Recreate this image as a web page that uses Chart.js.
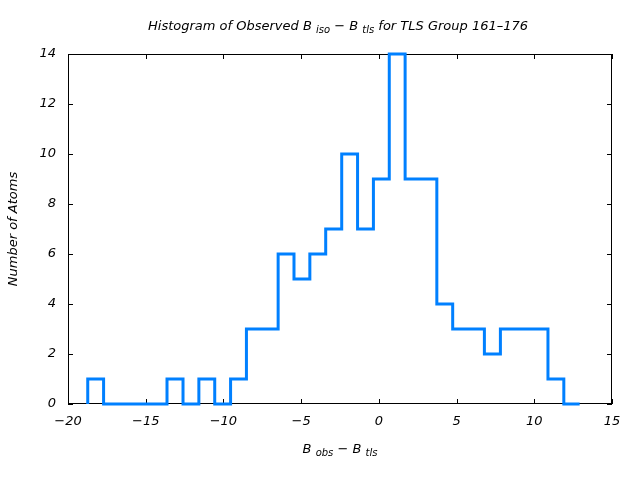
<!DOCTYPE html>
<html>
<head>
<meta charset="utf-8">
<script src="https://cdn.jsdelivr.net/npm/chart.js@4"></script>
<style>
  html, body { margin: 0; padding: 0; background: #fff; }
  canvas { display: block; }
</style>
</head>
<body>
<canvas id="hist" width="640" height="480"></canvas>
<script>
// bin edges (B_obs - B_tls) and atom counts
const binEdges = [-18.73, -17.71, -16.69, -15.67, -14.65, -13.63, -12.60, -11.58, -10.56, -9.54,
                  -8.52, -7.50, -6.48, -5.46, -4.44, -3.42, -2.39, -1.37, -0.35, 0.67,
                  1.69, 2.71, 3.73, 4.75, 5.77, 6.79, 7.82, 8.84, 9.86, 10.88,
                  11.90, 12.92];
const atomCounts = [1, 0, 0, 0, 0, 1, 0, 1, 0, 1,
                    3, 3, 6, 5, 6, 7, 10, 7, 9, 14,
                    9, 9, 4, 3, 3, 2, 3, 3, 3, 1,
                    0];
const xTicks = [-20, -15, -10, -5, 0, 5, 10, 15];
const yTicks = [0, 2, 4, 6, 8, 10, 12, 14];

const FONT = '"DejaVu Sans", sans-serif';

// outline points for the stepped line
const points = [{ x: binEdges[0], y: 0 }];
atomCounts.forEach((c, i) => points.push({ x: binEdges[i], y: c }));
points.push({ x: binEdges[binEdges.length - 1], y: atomCounts[atomCounts.length - 1] });

// text with subscripts, centred at (cx, cy)
function drawRich(ctx, parts, cx, cy, size) {
    const big = 'italic ' + size + 'px ' + FONT;
    const small = 'italic ' + Math.round(size * 0.8) + 'px ' + FONT;
    let total = 0;
    parts.forEach(p => {
        ctx.font = p.sub ? small : big;
        p.w = ctx.measureText(p.t).width;
        total += p.w;
    });
    let x = cx - total / 2;
    ctx.textAlign = 'left';
    ctx.textBaseline = 'middle';
    parts.forEach(p => {
        ctx.font = p.sub ? small : big;
        ctx.fillText(p.t, x, p.sub ? cy + size * 0.3 : cy);
        x += p.w;
    });
}

const frame = {
    id: 'frame',
    beforeDatasetsDraw(chart) {
        const { ctx, chartArea: a, scales } = chart;
        ctx.save();
        ctx.strokeStyle = '#000';
        ctx.lineWidth = 1;
        ctx.strokeRect(a.left + 0.5, a.top + 0.5, a.right - a.left - 1, a.bottom - a.top - 1);
        ctx.beginPath();
        xTicks.forEach(v => {
            const px = Math.round(scales.x.getPixelForValue(v)) + 0.5;
            ctx.moveTo(px, a.bottom); ctx.lineTo(px, a.bottom - 5);
            ctx.moveTo(px, a.top); ctx.lineTo(px, a.top + 5);
        });
        yTicks.forEach(v => {
            const py = Math.round(scales.y.getPixelForValue(v)) + 0.5;
            ctx.moveTo(a.left, py); ctx.lineTo(a.left + 5, py);
            ctx.moveTo(a.right, py); ctx.lineTo(a.right - 5, py);
        });
        ctx.stroke();
        ctx.restore();
    },
    afterDraw(chart) {
        const { ctx, chartArea: a } = chart;
        const mid = (a.left + a.right) / 2;
        ctx.save();
        ctx.fillStyle = '#000';
        drawRich(ctx, [
            { t: 'Histogram of Observed B ' }, { t: 'iso', sub: true },
            { t: ' \u2212 B ' }, { t: 'tls', sub: true },
            { t: ' for TLS Group 161\u2013176' }
        ], mid - 2, 27, 13);
        drawRich(ctx, [
            { t: 'B ' }, { t: 'obs', sub: true },
            { t: ' \u2212 B ' }, { t: 'tls', sub: true }
        ], mid, 450, 13);
        ctx.translate(14, (a.top + a.bottom) / 2);
        ctx.rotate(-Math.PI / 2);
        drawRich(ctx, [{ t: 'Number of Atoms' }], 0, 0, 13);
        ctx.restore();
    }
};

const tickFont = { family: FONT, size: 13, style: 'italic' };
const minus = v => String(v).replace('-', '\u2212');

new Chart(document.getElementById('hist').getContext('2d'), {
    type: 'line',
    data: {
        datasets: [{
            data: points,
            borderColor: '#0080ff',
            borderWidth: 3,
            stepped: 'before',
            fill: false,
            pointRadius: 0,
            clip: 4
        }]
    },
    options: {
        responsive: false,
        animation: false,
        devicePixelRatio: 1,
        layout: { padding: { top: 54, right: 28, left: 0, bottom: 0 } },
        plugins: { legend: { display: false }, tooltip: { enabled: false } },
        scales: {
            x: {
                type: 'linear', min: -20, max: 15,
                afterBuildTicks: s => { s.ticks = xTicks.map(v => ({ value: v })); },
                afterFit: s => { s.height = 76; },
                grid: { display: false, drawTicks: false },
                border: { display: false },
                ticks: { color: '#000', padding: 10, maxRotation: 0,
                         font: tickFont, callback: minus }
            },
            y: {
                type: 'linear', min: 0, max: 14,
                afterBuildTicks: s => { s.ticks = yTicks.map(v => ({ value: v })); },
                afterFit: s => { s.width = 68; },
                grid: { display: false, drawTicks: false },
                border: { display: false },
                ticks: { color: '#000', padding: 12, font: tickFont, callback: minus }
            }
        }
    },
    plugins: [frame]
});
</script>
</body>
</html>
